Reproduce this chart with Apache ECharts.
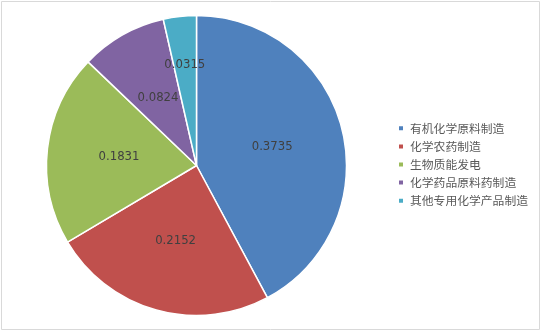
<!DOCTYPE html>
<html><head><meta charset="utf-8">
<script src="https://cdn.jsdelivr.net/npm/echarts@6/dist/echarts.min.js"></script>
<style>html,body{margin:0;padding:0;background:#fff}#c{width:542px;height:332px}</style>
</head><body><div id="c"></div>
<script>
const categories = ['有机化学原料制造','化学农药制造','生物质能发电','化学药品原料药制造','其他专用化学产品制造'];
const values = [0.3735, 0.2152, 0.1831, 0.0824, 0.0315];
const colors = ['#4F81BD','#C0504D','#9BBB59','#8064A2','#4BACC6'];
const chart = echarts.init(document.getElementById('c'));
chart.setOption({
  animation: false,
  graphic: [{type:'rect', shape:{x:1.5,y:1.5,width:538,height:328}, style:{fill:'none', stroke:'#d9d9d9', lineWidth:1}}],
  legend: {
    orient:'vertical', left:397, top:122.3, padding:0, itemWidth:6, itemHeight:6, itemGap:6.1, icon:'rect',
    textStyle:{fontSize:11.8, lineHeight:12, color:'#595959', fontFamily:'Noto Sans CJK SC', padding:[0,0,0,1]},
    data: categories
  },
  series: [{
    type:'pie', center:[196.5,165.5], radius:[0,150], startAngle:90, clockwise:true,
    avoidLabelOverlap:false,
    label:{show:true, position:'inside', formatter:p=>p.value, color:'#404040', fontSize:11.7, fontFamily:'DejaVu Sans', overflow:'none'},
    labelLine:{show:false},
    labelLayout:{hideOverlap:false},
    itemStyle:{borderColor:'#fff', borderWidth:1.5},
    emphasis:{disabled:true},
    data: categories.map((c,i)=>{
      const item = {name:c, value:values[i], itemStyle:{color:colors[i]}};
      if (i === 4) item.label = {offset:[-3,-23]};
      return item;
    })
  }]
});
</script></body></html>
